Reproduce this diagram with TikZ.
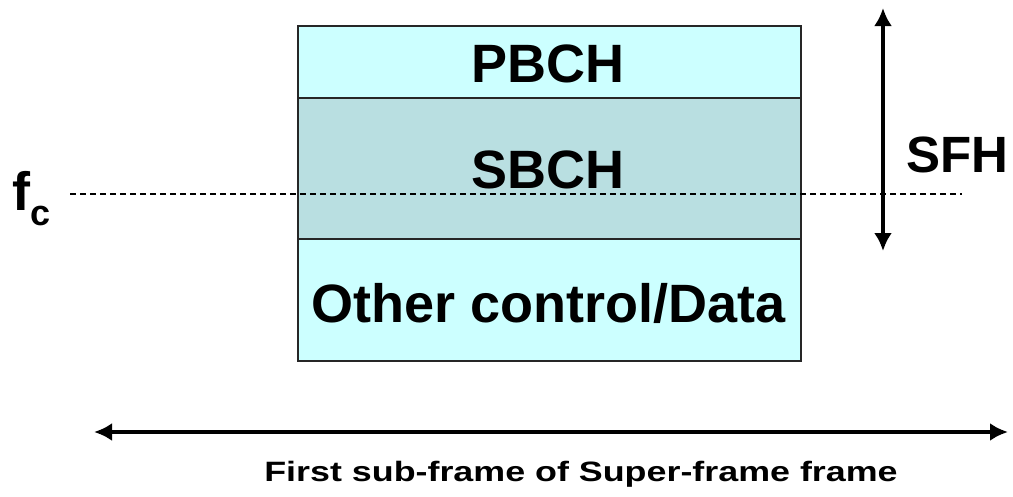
\documentclass[tikz,border=0pt]{standalone}
\usepackage{fontspec}
\setmainfont{Liberation Sans}
\usetikzlibrary{arrows.meta}
\definecolor{lightcyan}{RGB}{204,255,255}
\definecolor{greycyan}{RGB}{185,223,225}
\begin{document}
\begin{tikzpicture}[x=1pt,y=-1pt,
  band/.style={draw=black!85,line width=1.8pt,minimum width=503pt,inner sep=0pt,anchor=north west},
  bigtext/.style={font=\fontsize{54}{54}\selectfont\bfseries},
  span/.style={line width=3.8pt,{Latex[length=18pt,width=18pt]}-{Latex[length=18pt,width=18pt]}}]
\useasboundingbox (0,0) rectangle (1013,496);
% stacked channel bands
\node[band,fill=lightcyan,minimum height=72pt] (pbch) at (297,25) {};
\node[band,fill=greycyan,minimum height=141pt] (sbch) at (297,97) {};
\node[band,fill=lightcyan,minimum height=122pt] (other) at (297,238) {};
\node[bigtext,anchor=base] (pbchlbl) at (548,82) {PBCH};
\node[bigtext,anchor=base] (sbchlbl) at (548,188) {SBCH};
\node[bigtext,anchor=base] (otherlbl) at (549,322) {Other control/Data};
% carrier frequency line
\node[font=\fontsize{54}{54}\selectfont\bfseries,anchor=base west,inner sep=0pt] (fc) at (12,210) {f\raisebox{-0.28em}{\fontsize{36}{36}\selectfont c}};
\coordinate (dl) at (70,194);
\coordinate (dr) at (962,194);
\draw[line width=1.4pt,dash pattern=on 6pt off 4pt] (dl) -- (dr);
% super-frame header extent
\coordinate (st) at (883,8);
\coordinate (sb) at (883,251);
\draw[span] (sb) -- (st);
\node[font=\fontsize{51}{51}\selectfont\bfseries,anchor=base west,inner sep=0pt] (sfh) at (906,172) {SFH};
% sub-frame extent
\coordinate (hl) at (94,432);
\coordinate (hr) at (1008,432);
\draw[span] (hl) -- (hr);
\node[anchor=base,inner sep=0pt] (cap) at (581,481) {\scalebox{1.28}[1]{\fontsize{28}{28}\selectfont\bfseries First sub-frame of Super-frame frame}};
\end{tikzpicture}
\end{document}
